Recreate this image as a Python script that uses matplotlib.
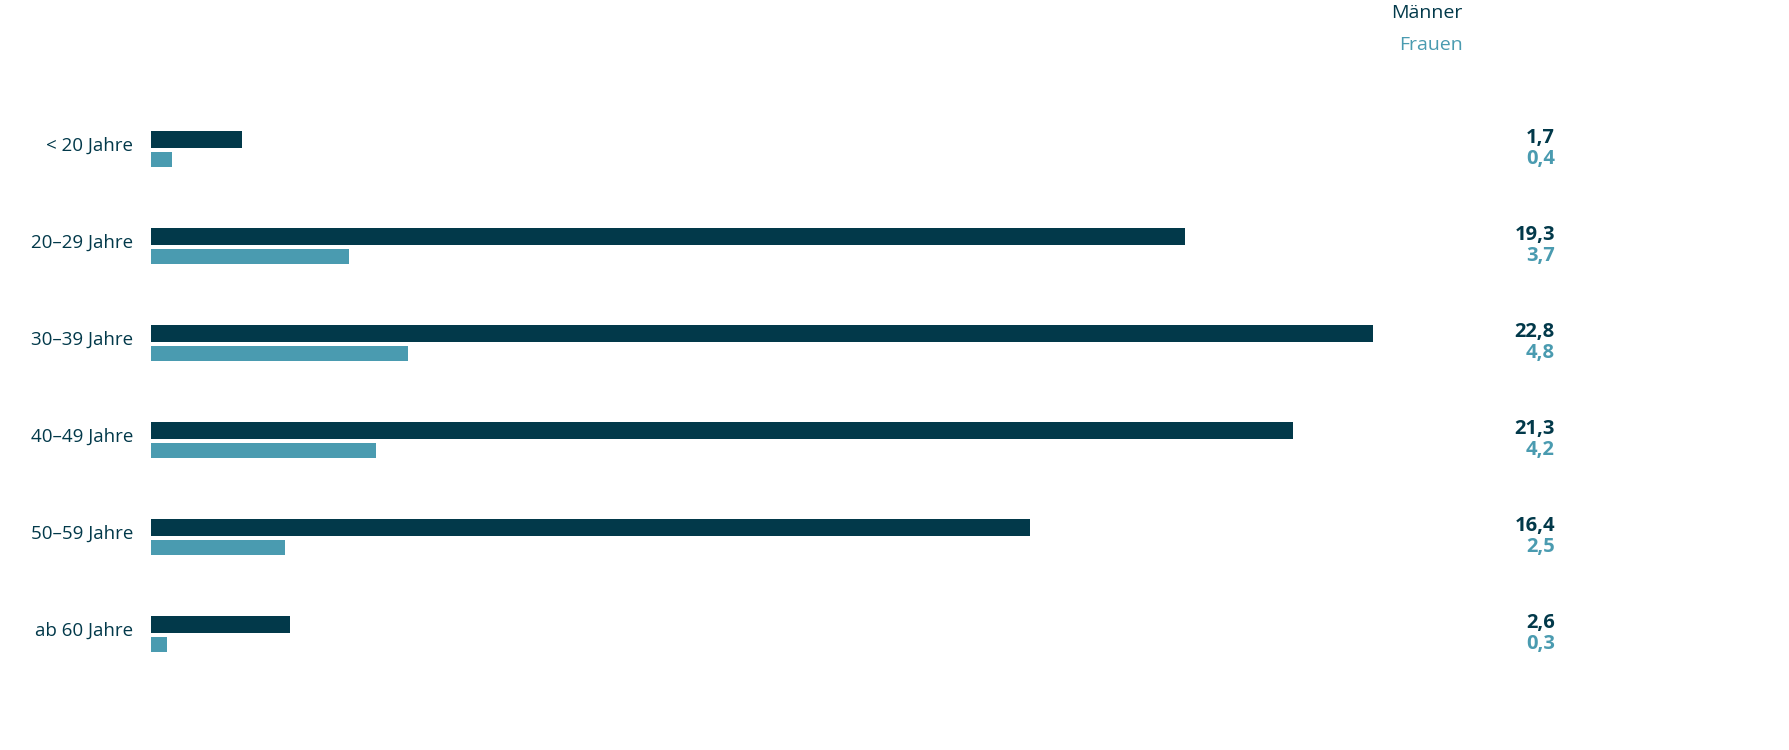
import matplotlib
matplotlib.use('Agg')
import matplotlib.pyplot as plt

plt.rcParams['font.family'] = ['Open Sans', 'DejaVu Sans']

# data
age_groups = ['< 20 Jahre', '20–29 Jahre', '30–39 Jahre', '40–49 Jahre', '50–59 Jahre', 'ab 60 Jahre']
maenner = [1.7, 19.3, 22.8, 21.3, 16.4, 2.6]
frauen = [0.4, 3.7, 4.8, 4.2, 2.5, 0.3]

dark = '#02394a'
teal = '#4a9bb0'

W, H = 1790, 750
fig = plt.figure(figsize=(W / 100, H / 100), dpi=100)

# axes spans bars from x=151px to 1555px, full height
ax = fig.add_axes([151 / W, 0, (1555 - 151) / W, 1])
px_per_unit = 53.6
ax.set_xlim(0, (1555 - 151) / px_per_unit)
ax.set_ylim((H - 149.5) / 97, -149.5 / 97)
ax.axis('off')

pos = list(range(len(age_groups)))
off = 0.103
ax.barh([p - off for p in pos], maenner, height=0.175, color=dark)
ax.barh([p + off for p in pos], frauen, height=0.155, color=teal)

# category labels and value labels
for i, name in enumerate(age_groups):
    ax.text(-18 / px_per_unit, i - 0.04, name, ha='right', va='center', fontsize=13.5, color=dark)
    ax.text(1.0, i - off - 0.02, f'{maenner[i]:.1f}'.replace('.', ','), transform=ax.get_yaxis_transform(),
            ha='right', va='center', fontsize=14.5, fontweight='bold', color=dark)
    ax.text(1.0, i + off - 0.01, f'{frauen[i]:.1f}'.replace('.', ','), transform=ax.get_yaxis_transform(),
            ha='right', va='center', fontsize=14.5, fontweight='bold', color=teal)

# legend as text top right
fig.text(1463 / W, 1 - 13 / H, 'Männer', ha='right', va='center', fontsize=14, color=dark)
fig.text(1463 / W, 1 - 45 / H, 'Frauen', ha='right', va='center', fontsize=14, color=teal)

fig.savefig('out.png', dpi=100, facecolor='white')
